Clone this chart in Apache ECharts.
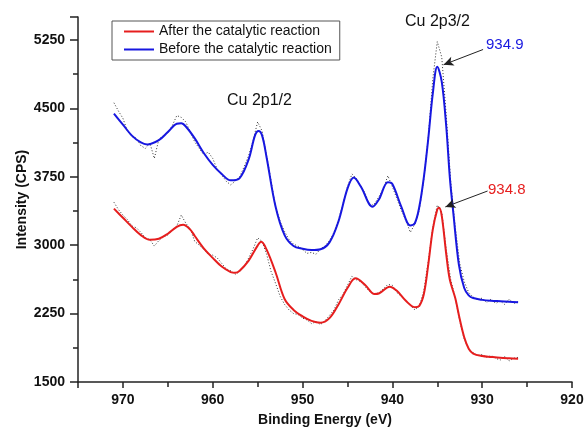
<!DOCTYPE html>
<html>
<head>
<meta charset="utf-8">
<script src="https://cdn.jsdelivr.net/npm/echarts@6/dist/echarts.min.js"></script>
<style>
  html, body { margin: 0; padding: 0; background: #fff; }
  #chart { width: 584px; height: 428px; }
</style>
</head>
<body>
<div id="chart"></div>
<script>
var myChart = echarts.init(document.getElementById('chart'));

// fitted curves, [binding energy (eV), intensity (CPS)]
var beforeFit = [
  [971, 4440], [970, 4320], [969, 4200], [968, 4125], [967.3, 4103], [966, 4150],
  [965, 4240], [964, 4330], [963.5, 4335], [963, 4300], [962, 4170], [961, 4010],
  [960, 3880], [959, 3780], [958, 3710], [957, 3735], [956, 3940], [955.3, 4200],
  [954.9, 4250], [954.5, 4200], [954, 3960], [953, 3420], [952, 3110], [951, 2990],
  [950, 2960], [949, 2946], [948, 2955], [947, 3030], [946, 3260], [945, 3620],
  [944.3, 3740], [943.5, 3640], [942.2, 3420], [941.5, 3500], [940.5, 3690],
  [940, 3670], [939, 3420], [938, 3215], [937.5, 3240], [937, 3420], [936.5, 3740],
  [936, 4170], [935.5, 4660], [935, 4955], [934.5, 4790], [934, 4300], [933.6, 3740],
  [933.2, 3340], [932.6, 2790], [932, 2530], [931.5, 2450], [931, 2420], [930, 2400],
  [929, 2390], [928, 2385], [927, 2380], [926, 2375]
];
var afterFit = [
  [971, 3400], [970, 3300], [969, 3200], [968, 3110], [967, 3058], [966, 3070],
  [965, 3125], [964, 3200], [963.3, 3222], [962.5, 3170], [962, 3100], [961, 2965],
  [960, 2860], [959, 2765], [958, 2705], [957.5, 2697], [957, 2720], [956, 2830],
  [955, 2995], [954.6, 3036], [954, 2950], [953, 2700], [952, 2410], [951, 2290],
  [950, 2220], [949, 2170], [948, 2150], [947, 2200], [946, 2350], [945, 2530],
  [944.1, 2636], [943, 2560], [942, 2465], [941.5, 2470], [940.3, 2545], [939.5, 2500],
  [938.5, 2390], [937.5, 2320], [937, 2335], [936.5, 2460], [936, 2790], [935.5, 3170],
  [935, 3390], [934.8, 3410], [934.5, 3320], [934, 2900], [933.6, 2620], [933, 2420],
  [932.5, 2190], [932, 1990], [931.5, 1865], [931, 1812], [930, 1785], [929, 1775],
  [928, 1766], [927, 1760], [926, 1755]
];

// raw (measured) counts, 0.5 eV step from 971 down to 926
var rawStart = 971;
var rawStep = 0.5;
var beforeRaw = [
  4560, 4470, 4390, 4250, 4190, 4170, 4090, 4060, 4120, 3950,
  4160, 4200, 4230, 4310, 4420, 4400, 4350, 4240, 4130, 4060,
  3990, 4020, 3950, 3830, 3770, 3700, 3660, 3700, 3750, 3860,
  3980, 4150, 4350, 4250, 3980, 3700, 3420, 3260, 3150, 3060,
  3010, 2990, 2950, 2910, 2920, 2900, 2960, 2990, 3050, 3140,
  3280, 3450, 3640, 3780, 3730, 3650, 3560, 3430, 3450, 3530,
  3620, 3760, 3640, 3510, 3380, 3270, 3140, 3230, 3380, 3720,
  4180, 4820, 5230, 5060, 4420, 3690, 3200, 2800, 2600, 2480,
  2430, 2400, 2420, 2370, 2410, 2360, 2390, 2350, 2410, 2360,
  2380
];
var afterRaw = [
  3470, 3390, 3330, 3280, 3210, 3190, 3140, 3080, 3060, 2990,
  3050, 3090, 3110, 3170, 3210, 3330, 3240, 3180, 3040, 3000,
  2950, 2900, 2890, 2860, 2800, 2740, 2720, 2680, 2710, 2760,
  2860, 2960, 3080, 3040, 2900, 2710, 2580, 2440, 2350, 2290,
  2250, 2240, 2200, 2180, 2140, 2160, 2130, 2170, 2230, 2290,
  2400, 2460, 2560, 2660, 2620, 2600, 2540, 2490, 2460, 2480,
  2520, 2570, 2560, 2480, 2440, 2390, 2340, 2290, 2330, 2500,
  2820, 3200, 3440, 3360, 2950, 2620, 2420, 2170, 1970, 1860,
  1820, 1790, 1800, 1770, 1790, 1760, 1740, 1780, 1730, 1760,
  1770
];

var yTicks = [1500, 2250, 3000, 3750, 4500, 5250];

function toPairs(vals) {
  return vals.map(function (v, i) { return [rawStart - i * rawStep, v]; });
}

var RED = '#e61e1e';
var BLUE = '#1717e0';
var FONT = 'Liberation Sans, Arial, sans-serif';

var rawStyle = {
  type: 'line', symbol: 'none', silent: true,
  lineStyle: { color: '#333', width: 1, type: [1, 2] },
  z: 1
};

option = {
  backgroundColor: '#fff',
  animation: false,
  textStyle: { fontFamily: FONT },
  grid: { left: 78, right: 12, top: 17, bottom: 46, outerBoundsMode: 'none', containLabel: false },
  legend: {
    data: ['After the catalytic reaction', 'Before the catalytic reaction'],
    orient: 'vertical',
    left: 112, top: 21,
    padding: [3, 8, 3, 12],
    itemGap: 3,
    itemWidth: 30, itemHeight: 2,
    icon: 'rect',
    borderColor: '#555', borderWidth: 1,
    backgroundColor: '#fff',
    textStyle: { fontSize: 14, color: '#111', fontFamily: FONT, lineHeight: 15 }
  },
  xAxis: {
    type: 'value',
    inverse: true,
    min: 920, max: 975,
    interval: 10,
    name: 'Binding Energy (eV)',
    nameLocation: 'middle',
    nameGap: 31,
    nameMoveOverlap: false,
    nameTextStyle: { fontSize: 14, fontWeight: 'bold', color: '#111', fontFamily: FONT },
    axisLine: { lineStyle: { color: '#222', width: 1.5 } },
    axisTick: { inside: false, length: 6, lineStyle: { color: '#222', width: 1.5 } },
    minorTick: { show: true, splitNumber: 2, length: 5, lineStyle: { color: '#222', width: 1.5 } },
    axisLabel: { fontSize: 14, fontWeight: 'bold', color: '#111', margin: 11, fontFamily: FONT,
      showMinLabel: true, showMaxLabel: false },
    splitLine: { show: false }
  },
  yAxis: {
    type: 'value',
    min: 1500, max: 5500,
    interval: 750,
    name: 'Intensity (CPS)',
    nameLocation: 'middle',
    nameGap: 49,
    nameMoveOverlap: false,
    nameTextStyle: { fontSize: 14, fontWeight: 'bold', color: '#111', fontFamily: FONT },
    axisLine: { show: true, lineStyle: { color: '#222', width: 1.5 } },
    axisTick: { inside: false, length: 8, lineStyle: { color: '#222', width: 1.5 } },
    minorTick: { show: true, splitNumber: 2, length: 5, lineStyle: { color: '#222', width: 1.5 } },
    axisLabel: {
      fontSize: 14, fontWeight: 'bold', color: '#111', margin: 13, fontFamily: FONT,
      formatter: function (v) { return yTicks.indexOf(v) >= 0 ? String(v) : ''; }
    },
    splitLine: { show: false }
  },
  series: [
    Object.assign({ name: 'raw-after', data: toPairs(afterRaw) }, rawStyle),
    Object.assign({ name: 'raw-before', data: toPairs(beforeRaw) }, rawStyle),
    {
      name: 'After the catalytic reaction',
      type: 'line', smooth: 0.35, symbol: 'none', z: 3,
      data: afterFit,
      itemStyle: { color: RED },
      lineStyle: { color: RED, width: 2 },
      markLine: {
        silent: true, symbol: ['none', 'arrow'], symbolSize: [7, 10],
        label: { show: false },
        lineStyle: { color: '#222', width: 1, type: 'solid' },
        data: [[{ coord: [929.4, 3593] }, { coord: [934.1, 3419] }]]
      }
    },
    {
      name: 'Before the catalytic reaction',
      type: 'line', smooth: 0.35, symbol: 'none', z: 3,
      data: beforeFit,
      itemStyle: { color: BLUE },
      lineStyle: { color: BLUE, width: 2 },
      markLine: {
        silent: true, symbol: ['none', 'arrow'], symbolSize: [7, 10],
        label: { show: false },
        lineStyle: { color: '#222', width: 1, type: 'solid' },
        data: [[{ coord: [929.9, 5144] }, { coord: [934.3, 4977] }]]
      }
    }
  ],
  graphic: [
    { type: 'text', left: 227, top: 93, style: { text: 'Cu 2p1/2', font: '16px ' + FONT, fill: '#111' } },
    { type: 'text', left: 405, top: 14, style: { text: 'Cu 2p3/2', font: '16px ' + FONT, fill: '#111' } },
    { type: 'text', left: 486, top: 37, style: { text: '934.9', font: '15px ' + FONT, fill: BLUE } },
    { type: 'text', left: 488, top: 182, style: { text: '934.8', font: '15px ' + FONT, fill: RED } }
  ]
};

if (option && typeof option === 'object') {
  myChart.setOption(option, true);
}
</script>
</body>
</html>
